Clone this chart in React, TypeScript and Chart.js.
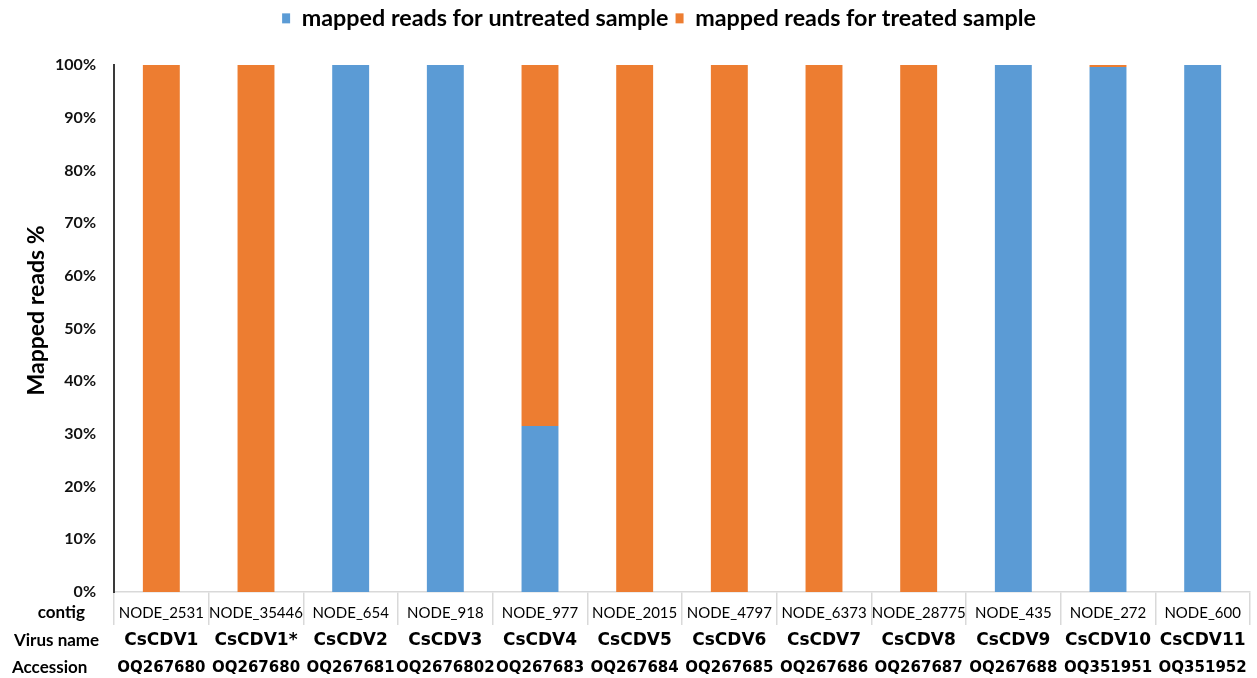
import React, { useEffect, useRef } from 'react';
import { Chart, registerables } from 'chart.js';

Chart.register(...registerables);

const contigs = ['NODE_2531', 'NODE_35446', 'NODE_654', 'NODE_918', 'NODE_977', 'NODE_2015', 'NODE_4797', 'NODE_6373', 'NODE_28775', 'NODE_435', 'NODE_272', 'NODE_600'];
const virusNames = ['CsCDV1', 'CsCDV1*', 'CsCDV2', 'CsCDV3', 'CsCDV4', 'CsCDV5', 'CsCDV6', 'CsCDV7', 'CsCDV8', 'CsCDV9', 'CsCDV10', 'CsCDV11'];
const accessions = ['OQ267680', 'OQ267680', 'OQ267681', 'OQ2676802', 'OQ267683', 'OQ267684', 'OQ267685', 'OQ267686', 'OQ267687', 'OQ267688', 'OQ351951', 'OQ351952'];
const untreated = [0, 0, 100, 100, 31.5, 0, 0, 0, 0, 100, 99.6, 100];
const treated = [100, 100, 0, 0, 68.5, 100, 100, 100, 100, 0, 0.4, 0];
const seriesNames = ['mapped reads for untreated sample', 'mapped reads for treated sample'];
const rowTitles = ['contig', 'Virus name', 'Accession'];
const yTitle = 'Mapped reads %';

const BLUE = '#5B9BD5';
const ORANGE = '#ED7D31';

export default function App() {
  const canvasRef = useRef<HTMLCanvasElement | null>(null);

  useEffect(() => {
    document.body.style.margin = '0';
    const canvas = canvasRef.current;
    if (!canvas) return;

    const rowLabelPlugin = {
      id: 'rowLabels',
      afterLayout(chart: any) {
        const lg = chart.legend;
        if (lg) {
          lg.left += 34;
          lg.right += 34;
          lg.top -= 25;
          lg.bottom -= 25;
        }
      },
      afterDraw(chart: any) {
        const ctx = chart.ctx;
        const sx = chart.scales.x;
        const sx2 = chart.scales.x2;
        const sx3 = chart.scales.x3;
        const sy = chart.scales.y;
        ctx.save();
        ctx.fillStyle = '#000';
        ctx.textBaseline = 'middle';
        ctx.font = 'bold 17px Lato, "Open Sans", sans-serif';
        ctx.textAlign = 'right';
        ctx.fillText(rowTitles[0], 85, sx.top + 21);
        ctx.textAlign = 'left';
        ctx.fillText(rowTitles[1], 14, sx2.top + 16);
        ctx.fillText(rowTitles[2], 12, sx3.top + 14);
        // y-axis title, centred a little above the plot's middle as in the source
        ctx.translate(37, (sy.top + sy.bottom) / 2 - 18);
        ctx.rotate(-Math.PI / 2);
        ctx.textAlign = 'center';
        ctx.font = 'bold 23px Lato, "Open Sans", sans-serif';
        ctx.fillText(yTitle, 0, 0);
        ctx.restore();
      },
    };

    const chart = new Chart(canvas, {
      type: 'bar',
      data: {
        labels: contigs,
        datasets: [
          { label: seriesNames[0], data: untreated, backgroundColor: BLUE, categoryPercentage: 1, barPercentage: 0.39 },
          { label: seriesNames[1], data: treated, backgroundColor: ORANGE, categoryPercentage: 1, barPercentage: 0.39 },
        ],
      },
      options: {
        animation: false,
        responsive: true,
        maintainAspectRatio: false,
        layout: { padding: { left: 0, right: 7, top: 0, bottom: 0 } },
        plugins: {
          legend: {
            position: 'top',
            labels: {
              boxWidth: 8,
              boxHeight: 10,
              padding: 7,
              color: '#000',
              font: { family: 'Lato, "Open Sans", sans-serif', size: 23.3, weight: 'bold' },
            },
          },
          tooltip: { enabled: false },
        },
        scales: {
          x: {
            type: 'category',
            position: 'bottom',
            stacked: true,
            offset: true,
            weight: 0,
            grid: { display: true, drawOnChartArea: false, drawTicks: true, tickLength: 33, color: '#d9d9d9', lineWidth: 1.5, offset: true },
            border: { display: true, color: '#d9d9d9', width: 1.5 },
            ticks: {
              autoSkip: false,
              maxRotation: 0,
              minRotation: 0,
              padding: -21,
              color: '#000',
              font: { family: 'Lato, "Open Sans", sans-serif', size: 15 },
            },
            afterFit: (s: any) => { s.height = 33; },
          },
          x2: {
            type: 'category',
            position: 'bottom',
            labels: virusNames,
            offset: true,
            weight: 1,
            grid: { display: false, drawTicks: false },
            border: { display: false },
            ticks: {
              autoSkip: false,
              maxRotation: 0,
              minRotation: 0,
              padding: 5.8,
              color: '#000',
              font: { family: '"DejaVu Sans", Verdana, sans-serif', size: 17, weight: 'bold' },
            },
            afterFit: (s: any) => { s.height = 29; },
          },
          x3: {
            type: 'category',
            position: 'bottom',
            labels: accessions,
            offset: true,
            weight: 2,
            grid: { display: false, drawTicks: false },
            border: { display: false },
            ticks: {
              autoSkip: false,
              maxRotation: 0,
              minRotation: 0,
              padding: 5,
              color: '#000',
              font: { family: '"DejaVu Sans", Verdana, sans-serif', size: 15, weight: 'bold' },
            },
            afterFit: (s: any) => { s.height = 24; },
          },
          y: {
            stacked: true,
            min: 0,
            max: 100,
            grid: { display: false, drawTicks: false },
            border: { display: true, color: '#3a3a3a', width: 2 },
            ticks: {
              stepSize: 10,
              padding: 18,
              color: '#111',
              font: { family: 'Lato, "Open Sans", sans-serif', size: 16, weight: 'bold' },
              callback: (v: any) => v + '%',
            },
            title: { display: false },
            afterFit: (s: any) => {
              s.width = 114;
              s.paddingTop = 65;
            },
          },
        },
      },
      plugins: [rowLabelPlugin],
    } as any);

    return () => chart.destroy();
  }, []);

  return (
    <div style={{ position: 'relative', width: '1257px', height: '678px' }}>
      <canvas ref={canvasRef} />
    </div>
  );
}
